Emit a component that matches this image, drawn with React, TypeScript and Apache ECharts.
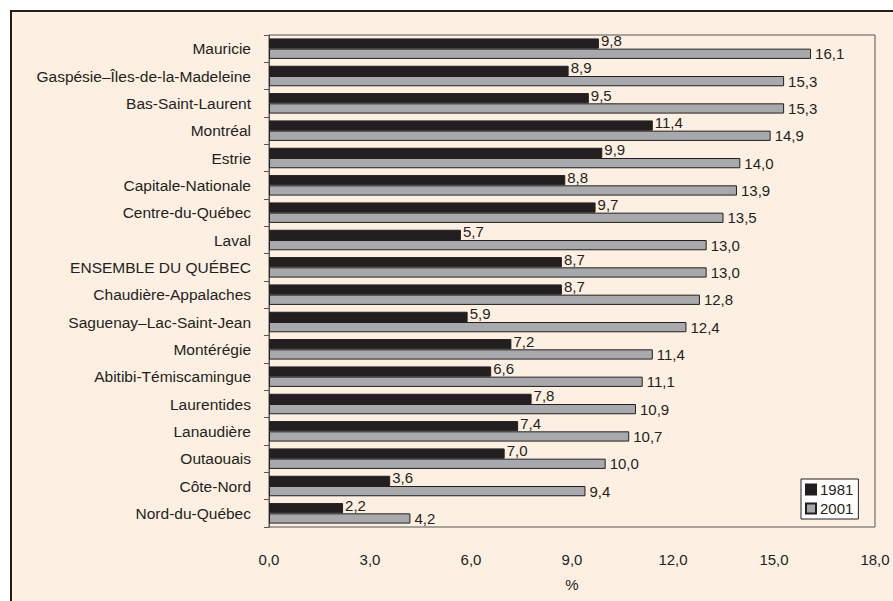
import React, { useEffect, useRef } from "react";
import * as echarts from "echarts";

const categories = [
  "Mauricie",
  "Gaspésie–Îles-de-la-Madeleine",
  "Bas-Saint-Laurent",
  "Montréal",
  "Estrie",
  "Capitale-Nationale",
  "Centre-du-Québec",
  "Laval",
  "ENSEMBLE DU QUÉBEC",
  "Chaudière-Appalaches",
  "Saguenay–Lac-Saint-Jean",
  "Montérégie",
  "Abitibi-Témiscamingue",
  "Laurentides",
  "Lanaudière",
  "Outaouais",
  "Côte-Nord",
  "Nord-du-Québec",
];
const values1981 = [9.8, 8.9, 9.5, 11.4, 9.9, 8.8, 9.7, 5.7, 8.7, 8.7, 5.9, 7.2, 6.6, 7.8, 7.4, 7.0, 3.6, 2.2];
const values2001 = [16.1, 15.3, 15.3, 14.9, 14.0, 13.9, 13.5, 13.0, 13.0, 12.8, 12.4, 11.4, 11.1, 10.9, 10.7, 10.0, 9.4, 4.2];
const seriesNames = ["1981", "2001"];
const axisName = "%";

const fmt = (v: number) => v.toFixed(1).replace(".", ",");

export default function App() {
  const ref = useRef<HTMLDivElement>(null);
  useEffect(() => {
    document.body.style.margin = "0";
    const chart = echarts.init(ref.current!, null, { renderer: "svg" });
    const font = "Liberation Sans, Arial, sans-serif";
    const dark = "#231F20";
    chart.setOption({
      animation: false,
      backgroundColor: "#ffffff",
      textStyle: { fontFamily: font },
      graphic: [
        {
          type: "rect",
          z: -10,
          shape: { x: 11, y: 11, width: 900, height: 620 },
          style: { fill: "#FDEFE2", stroke: dark, lineWidth: 2 },
          silent: true,
        },
      ],
      grid: {
        left: 269,
        top: 35,
        width: 606,
        height: 492,
        show: true,
        backgroundColor: "transparent",
        borderColor: "#555555",
        borderWidth: 1,
      },
      legend: {
        left: 801,
        top: 479,
        orient: "vertical",
        icon: "rect",
        itemWidth: 10,
        itemHeight: 10,
        itemGap: 4,
        padding: [3, 5, 3, 4],
        backgroundColor: "#ffffff",
        borderColor: dark,
        borderWidth: 1,
        textStyle: { fontSize: 15, color: dark, fontFamily: font, padding: [0, 0, 0, -1] },
        data: seriesNames,
      },
      xAxis: {
        type: "value",
        min: 0,
        max: 18,
        interval: 3,
        name: axisName,
        nameLocation: "middle",
        nameGap: 50,
        nameTextStyle: { fontSize: 15, color: dark, fontFamily: font },
        axisLine: { show: false },
        axisTick: { show: false },
        splitLine: { show: false },
        axisLabel: {
          formatter: (v: number) => fmt(v),
          fontSize: 15,
          color: dark,
          margin: 25,
          fontFamily: font,
        },
      },
      yAxis: {
        type: "category",
        data: categories,
        inverse: true,
        axisLine: { show: true, lineStyle: { color: "#555555", width: 1 } },
        axisTick: { show: true, length: 5, lineStyle: { color: "#555555" } },
        axisLabel: { fontSize: 15.5, color: dark, margin: 18, fontFamily: font },
      },
      series: [
        {
          name: seriesNames[0],
          type: "bar",
          data: values1981,
          barGap: "0%",
          barCategoryGap: "25%",
          itemStyle: { color: dark, borderColor: dark, borderWidth: 1 },
          label: {
            show: true,
            position: "right",
            distance: 2,
            offset: [0, -3],
            formatter: (p: any) => fmt(p.value),
            fontSize: 15,
            color: dark,
            fontFamily: font,
          },
        },
        {
          name: seriesNames[1],
          type: "bar",
          data: values2001,
          barGap: "0%",
          barCategoryGap: "25%",
          itemStyle: { color: "#A7A9AC", borderColor: dark, borderWidth: 1 },
          label: {
            show: true,
            position: "right",
            distance: 4,
            formatter: (p: any) => fmt(p.value),
            fontSize: 15,
            color: dark,
            fontFamily: font,
          },
        },
      ],
    });
    return () => chart.dispose();
  }, []);
  return <div ref={ref} style={{ width: 893, height: 601 }} />;
}
